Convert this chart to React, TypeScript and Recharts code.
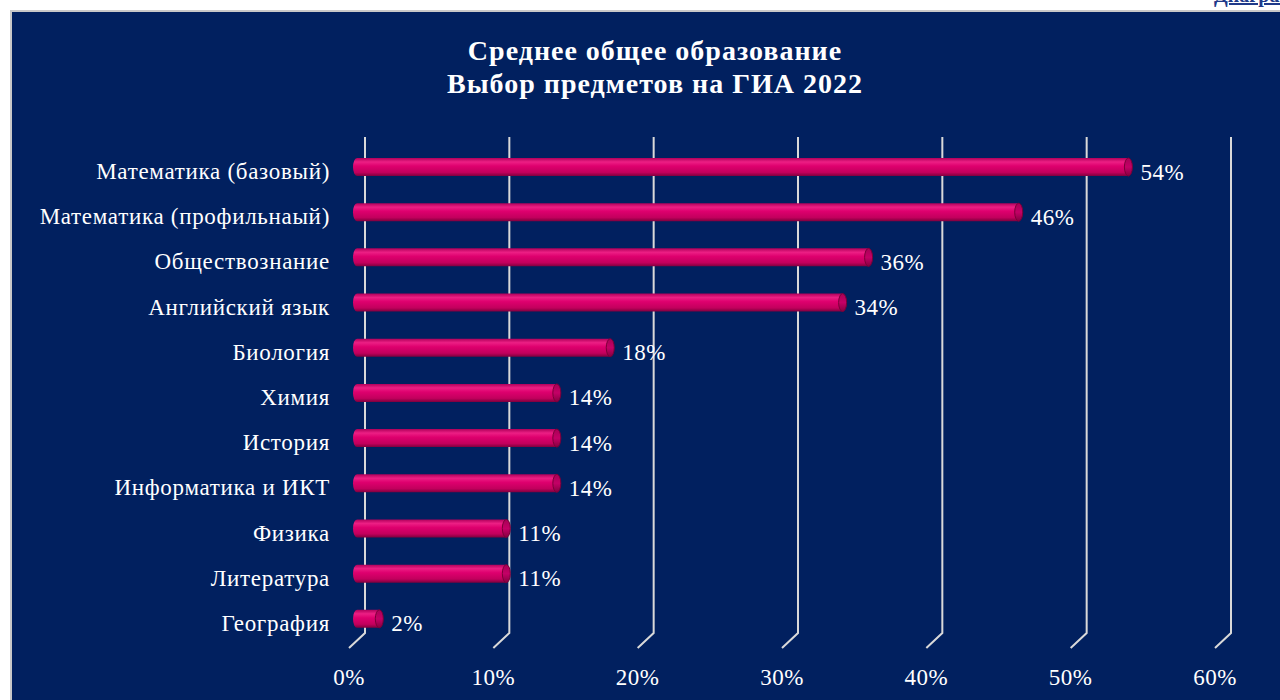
import React from 'react';
import { BarChart, Bar, XAxis, YAxis, CartesianGrid, LabelList } from 'recharts';

const categories = [
  'Математика (базовый)',
  'Математика (профильнаый)',
  'Обществознание',
  'Английский язык',
  'Биология',
  'Химия',
  'История',
  'Информатика и ИКТ',
  'Физика',
  'Литература',
  'География',
];
const values = [54, 46.4, 36, 34.2, 18.1, 14.4, 14.4, 14.4, 10.9, 10.9, 2.1];
const xTicks = [0, 10, 20, 30, 40, 50, 60];
const titleLines = ['Среднее общее образование', 'Выбор предметов на ГИА 2022'];

const data = categories.map((name, i) => ({ name, value: values[i] }));

const FONT = '"Liberation Serif", "Times New Roman", serif';
const BG = '#01205f';

const CylBar = (props: any) => {
  const { x, y, width, height } = props;
  if (width == null || width <= 0) return null;
  const rx = 4;
  const ry = height / 2;
  const body = `M ${x + 4 + rx} ${y} L ${x + width} ${y} L ${x + width} ${y + height} L ${x + 4 + rx} ${y + height} A ${rx} ${ry} 0 0 1 ${x + 4 + rx} ${y} Z`;
  return (
    <g>
      <path d={body} fill="url(#cylGrad)" />
      <ellipse cx={x + width} cy={y + ry} rx={rx} ry={ry} fill="url(#capGrad)" stroke="#7a0038" strokeWidth={1} />
    </g>
  );
};

const GridLine = (props: any) => {
  const { x1, y1, y2 } = props;
  const x = x1;
  return (
    <path
      key={props.key ?? `g-${x}`}
      d={`M ${x + 16} ${y1 - 7} L ${x + 16} ${y2 - 8} L ${x} ${y2 + 7}`}
      fill="none"
      stroke="#d9d9d9"
      strokeWidth={2}
    />
  );
};

const YTick = (props: any) => {
  const { y, payload } = props;
  return (
    <text x={330} y={y + 5} textAnchor="end" dominantBaseline="central" fill="#ffffff" fontSize={23} letterSpacing={0.7} fontFamily={FONT}>
      {payload.value}
    </text>
  );
};

const XTick = (props: any) => {
  const { x, payload } = props;
  return (
    <text x={x} y={677} textAnchor="middle" dominantBaseline="central" fill="#ffffff" fontSize={23} letterSpacing={0.5} fontFamily={FONT}>
      {`${payload.value}%`}
    </text>
  );
};

const ValueLabel = (props: any) => {
  const { x, y, width, height, value } = props;
  return (
    <text x={x + width + 12} y={y + height / 2 + 5} textAnchor="start" dominantBaseline="central" fill="#ffffff" fontSize={23} letterSpacing={0.5} fontFamily={FONT}>
      {`${Math.round(value)}%`}
    </text>
  );
};

export default function App() {
  return (
    <div style={{ position: 'absolute', left: 0, top: 0, width: 1280, height: 700, overflow: 'hidden', background: '#ffffff' }}>
      <div
        style={{
          position: 'absolute',
          left: 1214,
          top: -15,
          fontFamily: FONT,
          fontWeight: 'bold',
          fontSize: 20,
          lineHeight: '20px',
          color: '#1f3a8a',
          textDecoration: 'underline',
          whiteSpace: 'nowrap',
        }}
      >
        Диаграмма
      </div>
      <div
        style={{
          position: 'absolute',
          left: 10,
          top: 10,
          width: 1290,
          height: 710,
          background: BG,
          borderTop: '2px solid #c8c8c8',
          borderLeft: '2px solid #c8c8c8',
        }}
      />
      <div style={{ position: 'absolute', left: 0, top: 0 }}>
        <BarChart
          width={1280}
          height={700}
          data={data}
          layout="vertical"
          margin={{ top: 144, right: 65, bottom: 29, left: 10 }}
          barSize={18}
        >
          <defs>
            <linearGradient id="cylGrad" x1="0" y1="0" x2="0" y2="1">
              <stop offset="0%" stopColor="#b0005a" />
              <stop offset="22%" stopColor="#ec1f84" />
              <stop offset="45%" stopColor="#de006e" />
              <stop offset="80%" stopColor="#c2005d" />
              <stop offset="100%" stopColor="#7e003d" />
            </linearGradient>
            <linearGradient id="capGrad" x1="0" y1="0" x2="0" y2="1">
              <stop offset="0%" stopColor="#a80056" />
              <stop offset="50%" stopColor="#c40066" />
              <stop offset="100%" stopColor="#850040" />
            </linearGradient>
          </defs>
          <text x={655} y={50} textAnchor="middle" dominantBaseline="central" fill="#ffffff" fontSize={28} letterSpacing={1} fontWeight="bold" fontFamily={FONT}>
            {titleLines[0]}
          </text>
          <text x={655} y={83} textAnchor="middle" dominantBaseline="central" fill="#ffffff" fontSize={28} letterSpacing={1} fontWeight="bold" fontFamily={FONT}>
            {titleLines[1]}
          </text>
          <CartesianGrid horizontal={false} vertical={GridLine} />
          <XAxis
            type="number"
            domain={[0, 60]}
            ticks={xTicks}
            axisLine={false}
            tickLine={false}
            height={30}
            tick={XTick}
            interval={0}
          />
          <YAxis
            type="category"
            dataKey="name"
            width={339}
            axisLine={false}
            tickLine={false}
            tick={YTick}
            interval={0}
          />
          <Bar dataKey="value" isAnimationActive={false} shape={CylBar}>
            <LabelList dataKey="value" content={ValueLabel} />
          </Bar>
        </BarChart>
      </div>
    </div>
  );
}
